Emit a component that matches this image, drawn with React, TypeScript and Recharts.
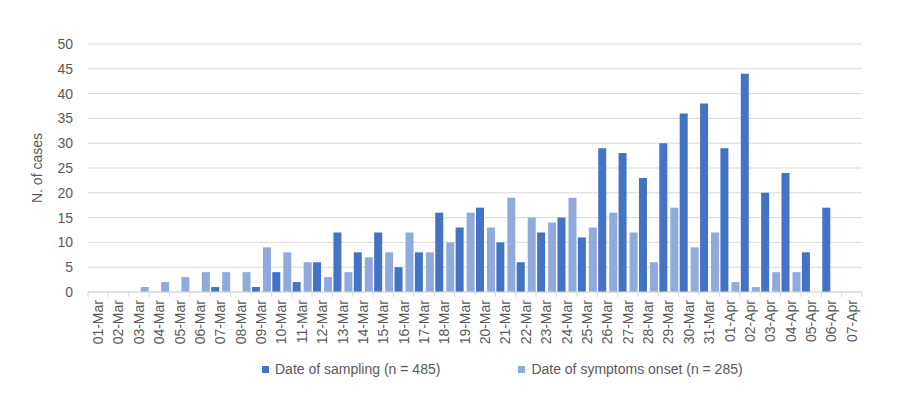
import { BarChart, Bar, XAxis, YAxis, CartesianGrid, Legend } from "recharts";

const days = [
  "01-Mar", "02-Mar", "03-Mar", "04-Mar", "05-Mar", "06-Mar", "07-Mar", "08-Mar",
  "09-Mar", "10-Mar", "11-Mar", "12-Mar", "13-Mar", "14-Mar", "15-Mar", "16-Mar",
  "17-Mar", "18-Mar", "19-Mar", "20-Mar", "21-Mar", "22-Mar", "23-Mar", "24-Mar",
  "25-Mar", "26-Mar", "27-Mar", "28-Mar", "29-Mar", "30-Mar", "31-Mar", "01-Apr",
  "02-Apr", "03-Apr", "04-Apr", "05-Apr", "06-Apr", "07-Apr",
];

// date of sampling (n = 485)
const sampling = [
  0, 0, 0, 0, 0, 0, 1, 0, 1, 4, 2, 6, 12, 8, 12, 5, 8, 16, 13, 17, 10, 6, 12, 15,
  11, 29, 28, 23, 30, 36, 38, 29, 44, 20, 24, 8, 17, 0,
];

// date of symptoms onset (n = 285)
const onset = [
  0, 0, 1, 2, 3, 4, 4, 4, 9, 8, 6, 3, 4, 7, 8, 12, 8, 10, 16, 13, 19, 15, 14, 19,
  13, 16, 12, 6, 17, 9, 12, 2, 1, 4, 4, 0, 0, 0,
];

const yTicks = [0, 5, 10, 15, 20, 25, 30, 35, 40, 45, 50];

const data = days.map((day, i) => ({ day, sampling: sampling[i], onset: onset[i] }));

const DARK = "#4472C4";
const LIGHT = "#8FAADC";
const TEXT = "#595959";
const GRID = "#D9D9D9";
const FONT = "'Liberation Sans', Arial, sans-serif";

function DayTick(props: any) {
  const { x, y, payload, index } = props;
  const half = payload && payload.offset ? payload.offset : 10.2;
  return (
    <g>
      <line x1={x - half} x2={x - half} y1={y} y2={y + 5} stroke={GRID} />
      {index === days.length - 1 && (
        <line x1={x + half} x2={x + half} y1={y} y2={y + 5} stroke={GRID} />
      )}
      <text
        x={0}
        y={0}
        dy="0.35em"
        textAnchor="end"
        transform={`translate(${x},${y + 8}) rotate(-90)`}
        fill={TEXT}
        fontSize={14}
        fontFamily={FONT}
      >
        {payload.value}
      </text>
    </g>
  );
}

function CasesLegend() {
  const items = [
    { label: "Date of sampling (n = 485)", color: DARK },
    { label: "Date of symptoms onset (n = 285)", color: LIGHT },
  ];
  return (
    <div
      style={{
        display: "flex",
        gap: 78,
        height: 20,
        lineHeight: "20px",
        fontSize: 14,
        fontFamily: FONT,
        color: TEXT,
      }}
    >
      {items.map((it) => (
        <div key={it.label} style={{ display: "flex", alignItems: "center" }}>
          <span
            style={{
              display: "inline-block",
              width: 7,
              height: 7,
              background: it.color,
              marginRight: 6,
            }}
          />
          <span>{it.label}</span>
        </div>
      ))}
    </div>
  );
}

export default function App() {
  return (
    <div style={{ position: "absolute", left: 0, top: 0, width: 900, height: 399, background: "#fff" }}>
      <BarChart
        width={900}
        height={399}
        data={data}
        margin={{ top: 44, right: 38, left: 0, bottom: 20 }}
        barCategoryGap={1}
        barGap={3}
      >
        <CartesianGrid vertical={false} stroke={GRID} />
        <XAxis
          dataKey="day"
          interval={0}
          height={67}
          tickLine={false}
          tickSize={0}
          tickMargin={0}
          axisLine={{ stroke: GRID }}
          tick={<DayTick />}
        />
        <YAxis
          domain={[0, 50]}
          ticks={yTicks}
          width={88}
          axisLine={false}
          tickLine={false}
          tickSize={8}
          tickMargin={7}
          tick={{ fill: TEXT, fontSize: 14, fontFamily: FONT }}
          label={{
            value: "N. of cases",
            angle: -90,
            position: "center",
            dx: -7,
            fill: TEXT,
            fontSize: 14,
            fontFamily: FONT,
          }}
        />
        <Legend
          verticalAlign="bottom"
          content={<CasesLegend />}
          wrapperStyle={{ left: 262, width: 560 }}
        />
        <Bar dataKey="sampling" fill={DARK} isAnimationActive={false} />
        <Bar dataKey="onset" fill={LIGHT} isAnimationActive={false} />
      </BarChart>
    </div>
  );
}
